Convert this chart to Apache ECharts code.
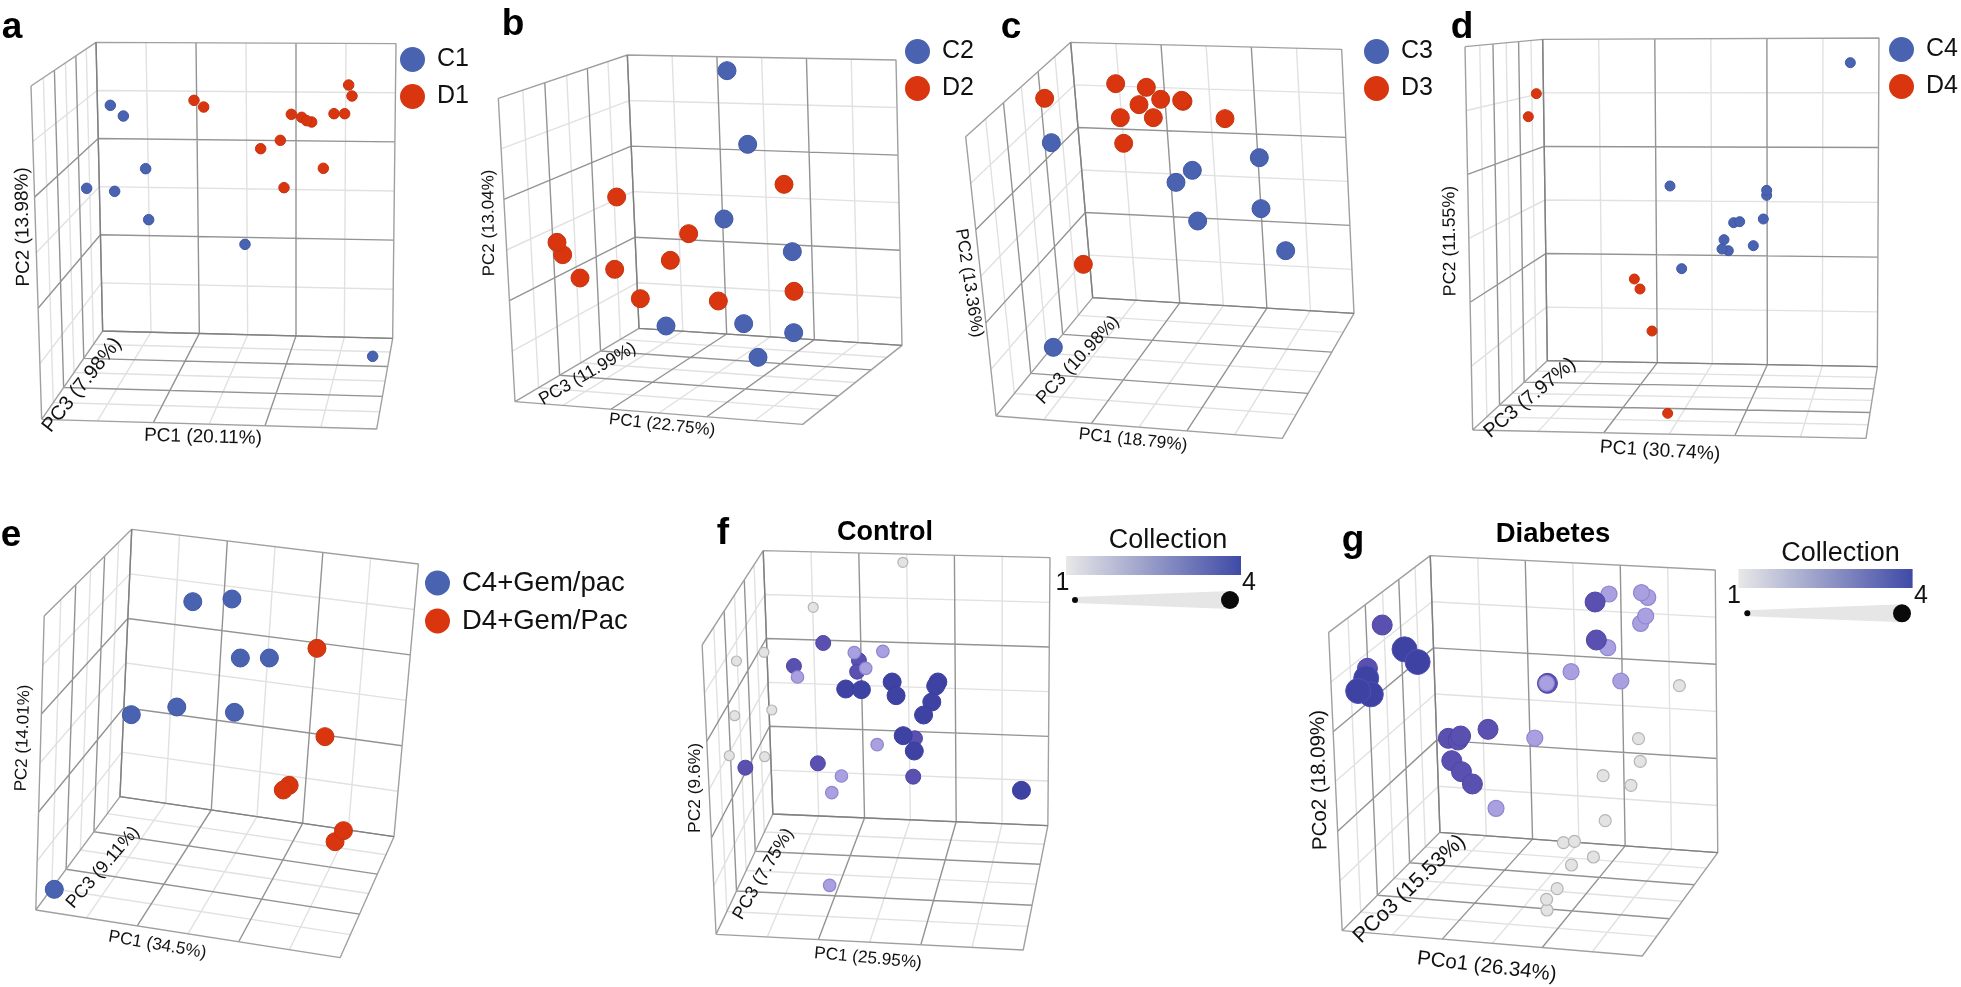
<!DOCTYPE html>
<html><head><meta charset="utf-8">
<script src="https://cdn.jsdelivr.net/npm/echarts@6/dist/echarts.min.js"></script>
<style>html,body{margin:0;padding:0;background:#fff}#c{width:1961px;height:987px}</style>
</head><body><div id="c"></div>
<script>
// ---- values (panel plane coordinates) ----
const aBlue=[[331,316],[370,348],[437,506],[260,565],[344,574],[446,659],[735,733],[1118,1069]];
const aRed=[[1046,255],[1056,288],[582,301],[611,321],[874,343],[1002,341],[1034,341],[905,352],[935,366],[920,362],[841,421],[782,446],[970,505],[852,563]];
const bBlue=[[711,212],[773,433],[702,657],[907,755],[528,978],[761,971],[911,998],[804,1072]];
const bRed=[[882,553],[380,591],[596,701],[218,764],[201,727],[541,781],[374,808],[270,834],[451,896],[685,903],[912,874]];
const cBlue=[[274,428],[898,473],[697,511],[648,547],[903,626],[713,663],[977,752],[280,1042]];
const cRed=[[254,295],[467,251],[559,262],[602,298],[537,314],[669,304],[665,301],[481,353],[580,353],[795,356],[491,430],[370,793]];
const dBlue=[[1201,188],[660,558],[950,586],[950,571],[851,668],[869,665],[940,657],[822,719],[835,752],[816,747],[910,737],[695,806]];
const dRed=[[259,281],[235,350],[553,837],[570,867],[606,993],[653,1240]];
const eBlue=[[458,275],[551,267],[571,444],[640,444],[312,614],[420,591],[557,607],[129,1138]];
const eRed=[[753,415],[772,680],[687,826],[673,840],[796,995],[816,962]];
const fGray=[[568,157],[317,292],[179,427],[102,453],[201,600],[97,617],[82,737],[181,740]];
const fMid=[[345,399],[263,468],[445,451],[440,485],[602,685],[330,760],[597,800],[127,773]];
const fLight=[[432,428],[512,424],[464,475],[273,501],[496,704],[396,798],[369,848],[363,1126]];
const fDark=[[538,516],[408,537],[452,539],[549,557],[666,516],[660,528],[649,576],[626,615],[569,677],[600,723],[900,841]];
const gGray=[[900,527],[803,686],[807,754],[719,797],[785,826],[724,932],[625,998],[651,994],[696,1041],[644,1065],[610,1136],[586,1200],[585,1168]];
const gLight=[[733,252],[825,262],[810,248],[808,340],[820,318],[730,413],[643,485],[761,513],[557,684],[465,895]];
const gMid=[[195,345],[160,475],[700,276],[703,390],[446,658],[352,685],[375,690],[381,678],[360,752],[383,785],[409,822],[587,520]];
const gDark=[[248,418],[279,456],[157,505],[168,553],[138,543]];
const gLightTop=[[585,520]];
const legendA=['C1','D1'],legendB=['C2','D2'],legendC=['C3','D3'],legendD=['C4','D4'],legendE=['C4+Gem/pac','D4+Gem/Pac'];
const depthTicksLight=[0.19,0.53,0.85],depthTicksDark=[0.36,0.69];
const evenTicksLight=[1/6,3/6,5/6],evenTicksDark=[2/6,4/6];

// ---- layout ----
const BLUE='#4a63b1',BLUEB='#3f56a8',RED='#d9360f',REDB='#c5330f';
const panels=[
 {box:[0,0,490,470],w:1470,h:1410,c:{TL:[288,127],TR:[1188,131],BR:[1178,1015],BL:[308,993],LT:[93,258],LB:[125,1258],F:[1130,1287]}},
 {box:[490,0,490,470],w:1470,h:1410,c:{TL:[412,165],TR:[1218,180],BR:[1236,1036],BL:[447,985],LT:[25,295],LB:[75,1205],F:[938,1273]}},
 {box:[960,0,490,470],w:1470,h:1410,c:{TL:[332,127],TR:[1145,148],BR:[1182,940],BL:[398,893],LT:[17,410],LB:[108,1248],F:[967,1315]}},
 {box:[1450,0,511,470],w:1533,h:1410,c:{TL:[278,118],TR:[1287,114],BR:[1282,1100],BL:[292,1082],LT:[45,140],LB:[68,1290],F:[1248,1315]}},
 {box:[0,510,660,477],w:1568,h:1431,c:{TL:[313,58],TR:[994,162],BR:[936,980],BL:[285,860],LT:[105,318],LB:[85,1200],F:[808,1343]}},
 {box:[700,510,560,477],w:1568,h:1431,c:{TL:[177,122],TR:[980,143],BR:[974,947],BL:[204,912],LT:[6,405],LB:[45,1273],F:[905,1320]}},
 {box:[1300,510,661,477],w:1568,h:1431,c:{TL:[309,137],TR:[985,180],BR:[991,1028],BL:[332,967],LT:[68,367],LB:[100,1262],F:[812,1338]}}
];
const lerp=(a,b,t)=>[a[0]+(b[0]-a[0])*t,a[1]+(b[1]-a[1])*t];
const GAP=['-','-'];
// a wall is a quad a-b-c-d; ticks along a->b are uTicks, along a->d vTicks
function wallLines(q,uTicks,vTicks){
  const out=[];
  uTicks.forEach(t=>out.push(lerp(q[0],q[1],t),lerp(q[3],q[2],t),GAP));
  vTicks.forEach(t=>out.push(lerp(q[0],q[3],t),lerp(q[1],q[2],t),GAP));
  return out;
}
const grid=[],xAxis=[],yAxis=[],series=[];
panels.forEach((p,i)=>{
  grid.push({left:p.box[0],top:p.box[1],width:p.box[2],height:p.box[3],show:false});
  xAxis.push({type:'value',gridIndex:i,min:0,max:p.w,show:false,splitLine:{show:false}});
  yAxis.push({type:'value',gridIndex:i,min:0,max:p.h,inverse:true,show:false,splitLine:{show:false}});
  const c=p.c;
  const back=[c.TL,c.TR,c.BR,c.BL],left=[c.LT,c.TL,c.BL,c.LB],floor=[c.LB,c.F,c.BR,c.BL];
  const light=[].concat(wallLines(back,evenTicksLight,evenTicksLight),wallLines(left,depthTicksLight,evenTicksLight),wallLines(floor,evenTicksLight,depthTicksLight));
  const dark=[].concat(wallLines(back,evenTicksDark,evenTicksDark),wallLines(left,depthTicksDark,evenTicksDark),wallLines(floor,evenTicksDark,depthTicksDark));
  const edge=[];
  [back,left,floor].forEach(q=>edge.push(q[0],q[1],q[2],q[3],q[0],GAP));
  const ln=(data,color,width,z)=>series.push({type:'line',xAxisIndex:i,yAxisIndex:i,data,showSymbol:false,symbol:'none',silent:true,animation:false,connectNulls:false,z,lineStyle:{color,width},legendHoverLink:false});
  ln(light,'#e1e1e1',1.4,1);
  ln(dark,'#939393',1.4,2);
  ln(edge,'#a0a0a0',1.4,2);
  ln([c.TL,c.BL,c.BR],'#808080',1.4,2);
});
function pts(name,idx,data,size,color,border,bw){
  series.push({type:'scatter',name,xAxisIndex:idx,yAxisIndex:idx,data,symbol:'circle',symbolSize:size,z:5,animation:false,itemStyle:{color,borderColor:border,borderWidth:bw===undefined?1:bw,opacity:1}});
}
pts('C1',0,aBlue,10.5,BLUE,BLUEB);pts('D1',0,aRed,10.5,RED,REDB);
pts('C2',1,bBlue,18,BLUE,BLUEB);pts('D2',1,bRed,18,RED,REDB);
pts('C3',2,cBlue,18,BLUE,BLUEB);pts('D3',2,cRed,18,RED,REDB);
pts('C4',3,dBlue,10,BLUE,BLUEB);pts('D4',3,dRed,10,RED,REDB);
pts('C4+Gem/pac',4,eBlue,18,BLUE,BLUEB);pts('D4+Gem/Pac',4,eRed,18,RED,REDB);
const GR='#e3e3e3',GRB='#b5b5b5',LI='#a9a0df',LIB='#9085d2',MI='#5a50b0',MIB='#4f45a8',DA='#3d42a3',DAB='#3a3ea0';
pts('Control collection 1',5,fGray,10,GR,GRB,1.2);
pts('Control collection 2',5,fMid,15,MI,MIB);
pts('Control collection 3',5,fLight,12.5,LI,LIB,1.2);
pts('Control collection 4',5,fDark,18,DA,DAB);
pts('Diabetes collection 1',6,gGray,12,GR,GRB,1.2);
pts('Diabetes collection 2',6,gLight,16,LI,LIB,1.2);
pts('Diabetes collection 3',6,gMid,20,MI,MIB);
pts('Diabetes collection 4',6,gDark,25,DA,'#5050b0');
pts('Diabetes collection 2 top',6,gLightTop,15.5,LI,LIB,1.2);

const legItem=(names,left,top,fs,gap)=>({show:true,data:names,left,top,padding:0,orient:'vertical',icon:'circle',itemWidth:25,itemHeight:25,itemGap:gap,selectedMode:false,textStyle:{fontFamily:'Liberation Sans',fontSize:fs,color:'#111',padding:[0,0,0,7]},itemStyle:{borderWidth:0}});
const legend=[legItem(legendA,400,47,25,12),legItem(legendB,905,39,25,12),legItem(legendC,1364,39,25,12),legItem(legendD,1889,37,25,12),legItem(legendE,425,569,27.5,10)];

// ---- text and key drawings ----
const FF='"Liberation Sans"';
const texts=[
 ['a',12,28,0,37,'bold'],['b',513,25,0,37,'bold'],['c',1011,28,0,37,'bold'],['d',1462,28,0,37,'bold'],['e',11,536,0,37,'bold'],['f',723,534,0,37,'bold'],['g',1353,541,0,37,'bold'],
 ['Control',885,533,0,27,'bold'],['Diabetes',1553,534,0,27.5,'bold'],
 ['PC2 (13.98%)',23,227,90.8,19],['PC3 (7.98%)',82,385,51.5,20],['PC1 (20.11%)',203,437,-1.5,19],
 ['PC2 (13.04%)',489,223,90.5,17],['PC3 (11.99%)',587.5,374,30,17.5],['PC1 (22.75%)',662,425,-6.2,17],
 ['PC2 (13.36%)',969,283,-81.3,17.5],['PC3 (10.98%)',1078,360,47.4,18],['PC1 (18.79%)',1133,440,-6.1,17.4],
 ['PC2 (11.55%)',1450,241,90.5,17.8],['PC3 (7.97%)',1530,398,40,19.8],['PC1 (30.74%)',1660,451,-3.5,19.2],
 ['PC2 (14.01%)',23,738,88,17],['PC3 (9.11%)',103,867.5,49.3,18],['PC1 (34.5%)',157.4,945,-9.7,17.3],
 ['PC2 (9.6%)',695,788,90,17.4],['PC3 (7.75%)',763.4,874,59.6,17.9],['PC1 (25.95%)',868,958.3,-5.3,17.2],
 ['PCo2 (18.09%)',1319.5,780,91,20.5],['PCo3 (15.53%)',1409.6,889,44,21.4],['PCo1 (26.34%)',1486.8,966.7,-6.8,20.5],
 ['Collection',1168,541,0,27],['1',1062.5,583,0,25],['4',1249,583,0,25],
 ['Collection',1840.5,554,0,27],['1',1734,596,0,25],['4',1921,596,0,25]
];
const graphic=[];
texts.forEach(t=>graphic.push({type:'text',x:t[1],y:t[2],rotation:t[3]*Math.PI/180,silent:true,z:10,
  style:{text:t[0],font:(t[5]||'normal')+' '+t[4]+'px '+FF,fill:t[5]?'#000':'#111',textAlign:'center',textVerticalAlign:'middle',align:'center',verticalAlign:'middle'}}));
function key(x0,x1,barY,barH,my,r0,r1){
  graphic.push({type:'rect',silent:true,z:9,shape:{x:x0[0],y:barY,width:x0[1]-x0[0],height:barH},
    style:{fill:new echarts.graphic.LinearGradient(0,0,1,0,[{offset:0,color:'#e8e8e8'},{offset:1,color:'#3f4aa6'}])}});
  graphic.push({type:'polygon',silent:true,z:9,shape:{points:[[x1[0],my-r0],[x1[1],my-r1],[x1[1],my+r1],[x1[0],my+r0]]},style:{fill:'#e6e6e6'}});
  graphic.push({type:'circle',silent:true,z:10,shape:{cx:x1[0],cy:my,r:r0},style:{fill:'#0a0a0a'}});
  graphic.push({type:'circle',silent:true,z:10,shape:{cx:x1[1],cy:my,r:r1},style:{fill:'#0a0a0a'}});
}
key([1066,1241],[1075,1230],556,19,600,3,9);
key([1738.4,1912.6],[1747.3,1902],569,19,613.3,3,9);

const chart=echarts.init(document.getElementById('c'),null,{renderer:'canvas'});
chart.setOption({animation:false,backgroundColor:'#fff',tooltip:{show:false},grid,xAxis,yAxis,legend,series,graphic});
</script></body></html>
